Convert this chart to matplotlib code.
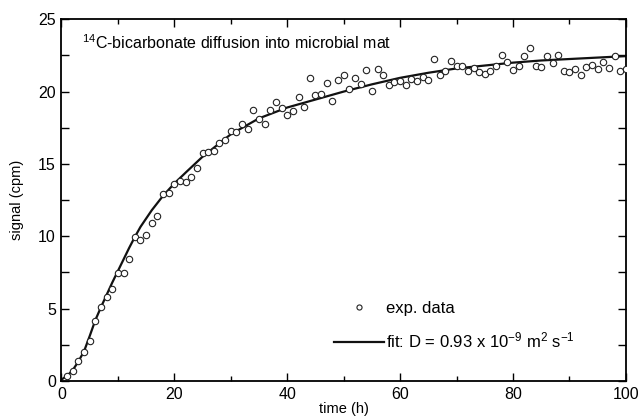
import matplotlib
matplotlib.use("Agg")
import matplotlib.pyplot as plt
from matplotlib.ticker import MultipleLocator

plt.rcParams['font.family'] = ['Liberation Sans', 'DejaVu Sans']
plt.rcParams['mathtext.fontset'] = 'custom'
plt.rcParams['mathtext.rm'] = 'Liberation Sans'
plt.rcParams['mathtext.it'] = 'Liberation Sans:italic'

# experimental data (hourly)
time_h = list(range(1, 101))
signal_cpm = [
    0.35, 0.69, 1.38, 2.02, 2.74, 4.17, 5.13, 5.83, 6.38, 7.46,
    7.46, 8.45, 9.95, 9.74, 10.07, 10.94, 11.42, 12.94, 12.99, 13.59,
    13.82, 13.77, 14.10, 14.70, 15.78, 15.85, 15.92, 16.47, 16.63, 17.30,
    17.23, 17.74, 17.44, 18.70, 18.13, 17.78, 18.75, 19.26, 18.87, 18.38,
    18.68, 19.65, 18.96, 20.95, 19.77, 19.81, 20.57, 19.37, 20.82, 21.15,
    20.20, 20.92, 20.55, 21.49, 20.02, 21.58, 21.13, 20.46, 20.64, 20.75,
    20.48, 20.89, 20.75, 21.03, 20.78, 22.25, 21.13, 21.44, 22.09, 21.79,
    21.75, 21.44, 21.61, 21.35, 21.22, 21.44, 21.79, 22.55, 22.07, 21.49,
    21.79, 22.48, 23.00, 21.79, 21.70, 22.46, 21.98, 22.55, 21.44, 21.33,
    21.58, 21.15, 21.68, 21.84, 21.56, 22.05, 21.65, 22.48, 21.40, 21.58,
]

# fit curve
fit_t = [0, 1, 2, 3, 4, 5, 6, 7, 8, 9, 10, 11, 12, 13, 14, 16, 18, 20, 22,
         25, 30, 35, 40, 45, 50, 55, 60, 65, 70, 75, 80, 85, 90, 95, 100]
fit_y = [0.1, 0.35, 0.75, 1.35, 2.05, 3.1, 4.2, 5.1, 5.95, 6.8, 7.6, 8.4,
         9.2, 9.95, 10.65, 11.8, 12.8, 13.65, 14.4, 15.5, 17.05, 18.15,
         18.9, 19.45, 20.0, 20.5, 20.95, 21.3, 21.6, 21.8, 22.0, 22.15,
         22.25, 22.35, 22.45]

fig = plt.figure(figsize=(6.4, 4.18), dpi=100)
ax = fig.add_axes([0.096, 0.0885, 0.882, 0.8655])

ax.plot(time_h, signal_cpm, linestyle='none', marker='o', markersize=4.6,
        markerfacecolor='white', markeredgecolor='#222222',
        markeredgewidth=0.8, label='exp. data', zorder=3)
ax.plot(fit_t, fit_y, color='#111111', linewidth=1.6,
        label=r'fit: D = 0.93 x 10$^{\mathregular{-9}}$ m$^{\mathregular{2}}$ s$^{\mathregular{-1}}$',
        zorder=2)

ax.set_xlim(0, 100)
ax.set_ylim(0, 25)
ax.xaxis.set_major_locator(MultipleLocator(20))
ax.xaxis.set_minor_locator(MultipleLocator(10))
ax.yaxis.set_major_locator(MultipleLocator(5))
ax.yaxis.set_minor_locator(MultipleLocator(2.5))
ax.tick_params(which='both', direction='in', top=True, right=True,
               width=1.0, labelsize=11.5, pad=4)
ax.tick_params(axis='x', which='major', length=6)
ax.tick_params(axis='x', which='minor', length=3.5)
ax.tick_params(axis='y', which='both', length=6)
for s in ax.spines.values():
    s.set_linewidth(1.3)

ax.set_xlabel('time (h)', fontsize=10.5, labelpad=0)
ax.set_ylabel('signal (cpm)', fontsize=10.5, labelpad=10)

ax.text(0.036, 0.935, r'$^{\mathregular{14}}$C-bicarbonate diffusion into microbial mat',
        transform=ax.transAxes, fontsize=11.5, va='center', ha='left')

leg = ax.legend(loc='center left', bbox_to_anchor=(0.483, 0.153),
                frameon=False, fontsize=12, handlelength=3.0,
                handletextpad=0.1, labelspacing=0.9, borderpad=0,
                borderaxespad=0, markerscale=0.8)

fig.savefig('out.png', dpi=100)
